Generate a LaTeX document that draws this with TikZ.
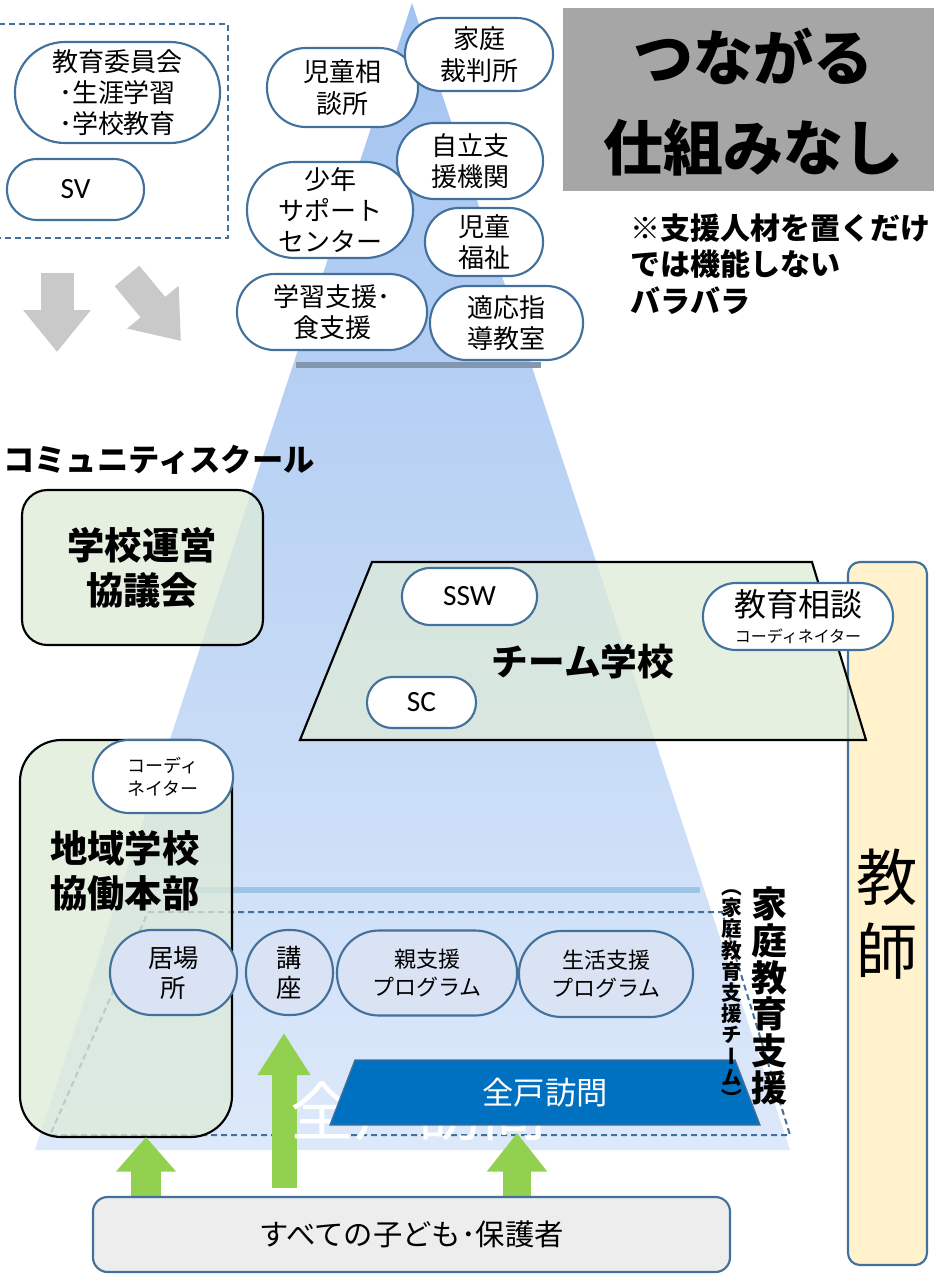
\documentclass[tikz,border=0pt]{standalone}
\usepackage{fontspec}
\setmainfont{Noto Sans CJK JP}
\newfontfamily\lat{Carlito}
\newfontfamily\vjp[RawFeature=+vert]{Noto Sans CJK JP}
\usetikzlibrary{arrows.meta}
\definecolor{pb}{HTML}{41719C}
\definecolor{triA}{HTML}{A2C3F0}
\definecolor{triB}{HTML}{DDE9FA}
\definecolor{gfill}{HTML}{DEEBD8}
\definecolor{lpill}{HTML}{DAE3F3}
\definecolor{grayb}{HTML}{A6A6A6}
\definecolor{garr}{HTML}{C9C9C9}
\definecolor{greena}{HTML}{92D050}
\definecolor{dblue}{HTML}{0070C0}
\definecolor{yel}{HTML}{FFF2CC}
\definecolor{kidsf}{HTML}{EDEDED}
\definecolor{lineg}{HTML}{8497B0}
\definecolor{lineb}{HTML}{9DC3E6}
\begin{document}
\begin{tikzpicture}[x=0.75pt,y=-0.75pt,
  wh/.style args={#1/#2}{minimum width=#1*0.75pt,minimum height=#2*0.75pt,rounded corners=#2*0.37pt},
  pill/.style={draw=pb,line width=1.6pt,fill=white,inner sep=0pt,align=center,font=\fontsize{19.5}{23.5}\selectfont},
  lowpill/.style={pill,fill=lpill},
  gbox/.style={draw=black,line width=1.6pt,fill=gfill,fill opacity=0.75,text opacity=1,inner sep=0pt},
  dashl/.style={draw=pb,line width=1.5pt,dash pattern=on 4.5pt off 3pt},
  txt/.style={inner sep=0pt,align=center},
]
\path[use as bounding box,fill=white] (0,0) rectangle (933,1275);
% pyramid
\shade[top color=triA,bottom color=triB] (412,3) -- (790,1150) -- (35,1150) -- cycle;
\draw[lineg,line width=3.8pt] (296,365) -- (541,365);
\draw[lineb,line width=4.5pt] (195,890) -- (700,890);
% dashed frames
\node[dashl,minimum width=233*0.75pt,minimum height=214*0.75pt,inner sep=0pt] (bedbox) at (111.5,131) {};
\draw[dashl] (148,912) -- (722,912) -- (790,1135) -- (50,1135) -- cycle;
% teacher column
\node[draw=pb,line width=1.6pt,fill=yel,rounded corners=9pt,minimum width=79*0.75pt,minimum height=703*0.75pt,inner sep=0pt] (kbox) at (887.5,913.5) {};
\node[txt,font=\fontsize{46}{56}\selectfont] (kyoshi) at (887,914) {教\\師};
% top-left
\node[pill,wh=205/101] (kyoiku) at (117.5,92.5) {教育委員会\\･生涯学習\\･学校教育};
\node[pill,wh=137/61,font=\lat\fontsize{22}{26}\selectfont] (sv) at (75.5,189.5) {SV};
% grey arrows
\coordinate (ga1s) at (57,273); \coordinate (ga1e) at (57,352);
\draw[garr,line width=24.75pt,-{Triangle[width=48.75pt,length=31.5pt]}] (ga1s) -- (ga1e);
\coordinate (ga2s) at (127,276); \coordinate (ga2e) at (181,341);
\draw[garr,line width=24pt,-{Triangle[width=48pt,length=33pt]}] (ga2s) -- (ga2e);
% top pills
\node[pill,wh=151/79] (jidou) at (342.5,87.5) {児童相\\談所};
\node[pill,wh=148/73] (katei) at (479,54.5) {家庭\\裁判所};
\node[pill,wh=166/96] (shonen) at (330,210) {少年\\サポート\\センター};
\node[pill,wh=146/76] (jiritsu) at (470,161) {自立支\\援機関};
\node[pill,wh=118/68] (fukushi) at (484,242) {児童\\福祉};
\node[pill,wh=190/76] (gakushu) at (332,312) {学習支援･\\食支援};
\node[pill,wh=153/74] (tekio) at (506.5,323) {適応指\\導教室};
% grey title box
\node[fill=grayb,minimum width=377*0.75pt,minimum height=183*0.75pt,inner sep=0pt] (graybox) at (751.5,99.5) {};
\node[txt,font=\bfseries\fontsize{45}{67.5}\selectfont] (tsunagaru) at (753,102) {つながる\\仕組みなし};
\node[txt,align=left,anchor=west,font=\bfseries\fontsize{22.5}{27.4}\selectfont] (note) at (630,264) {※支援人材を置くだけ\\では機能しない\\バラバラ};
\node[txt,anchor=west,font=\bfseries\fontsize{23.5}{28}\selectfont] (cs) at (3,460) {コミュニティスクール};
% green boxes
\node[gbox,rounded corners=19pt,minimum width=241*0.75pt,minimum height=155*0.75pt] (unei) at (142.5,567.5) {};
\node[txt,font=\bfseries\fontsize{28}{33.75}\selectfont] (uneit) at (142,567.5) {学校運営\\協議会};
\draw[gbox] (372,562) -- (812,562) -- (866,740) -- (300,740) -- cycle;
\node[txt,font=\bfseries\fontsize{27.5}{33}\selectfont] (team) at (583,662) {チーム学校};
\node[gbox,rounded corners=31pt,minimum width=212*0.75pt,minimum height=397*0.75pt] (chiiki) at (126,938.5) {};
\node[txt,font=\bfseries\fontsize{28}{33.75}\selectfont] (chiikit) at (125,870.5) {地域学校\\協働本部};
% team pills
\node[pill,wh=135/57,font=\lat\fontsize{22}{26}\selectfont] (ssw) at (469.5,596.5) {SSW};
\node[pill,wh=109/51,font=\lat\fontsize{22}{26}\selectfont] (sc) at (421.5,702.5) {SC};
\node[pill,wh=190/67] (soudan) at (798,616.5) {};
\node[txt,font=\fontsize{24}{28}\selectfont] (soudant) at (798,604) {教育相談};
\node[txt,font=\fontsize{12}{14}\selectfont] (soudanc) at (798,636) {コーディネイター};
\node[pill,wh=140/73,font=\fontsize{13.5}{17.25}\selectfont] (coord) at (163,776.5) {コーディ\\ネイター};
% lower pills
\node[lowpill,wh=127/85,font=\fontsize{19}{22.5}\selectfont] (ibasho) at (173.5,972.5) {居場\\所};
\node[lowpill,wh=87/85,font=\fontsize{19}{22.5}\selectfont] (koza) at (289.5,972.5) {講\\座};
\node[lowpill,wh=180/85,font=\fontsize{16.5}{21}\selectfont] (oya) at (427,973) {親支援\\プログラム};
\node[lowpill,wh=174/86,font=\fontsize{16.5}{21}\selectfont] (seikatsu) at (606,974) {生活支援\\プログラム};
% green arrows
\coordinate (g1s) at (146,1200); \coordinate (g1e) at (146,1137);
\draw[greena,line width=22.5pt,-{Triangle[width=43.5pt,length=26pt]}] (g1s) -- (g1e);
\coordinate (g2s) at (284,1188); \coordinate (g2e) at (284,1033);
\draw[greena,line width=18.75pt,-{Triangle[width=37.5pt,length=31.5pt]}] (g2s) -- (g2e);
\coordinate (g3s) at (517,1200); \coordinate (g3e) at (517,1133);
\draw[greena,line width=21pt,-{Triangle[width=43.5pt,length=29pt]}] (g3s) -- (g3e);
% door-to-door
\node[txt,text=white,font=\fontsize{48}{52}\selectfont] (zenkobig) at (418,1111) {全戸訪問};
\draw[fill=dblue,draw=pb,line width=1pt] (355,1060) -- (735,1060) -- (760,1125) -- (330,1125) -- cycle;
\node[txt,text=white,font=\fontsize{23.5}{28}\selectfont] (zenko) at (545,1093) {全戸訪問};
% bottom
\node[draw=pb,line width=1.6pt,fill=kidsf,rounded corners=11pt,minimum width=637*0.75pt,minimum height=75*0.75pt,inner sep=0pt,font=\fontsize{22}{26}\selectfont] (kids) at (411.5,1234.5) {すべての子ども･保護者};
% vertical labels
\node[txt,font=\vjp\bfseries\fontsize{27}{27.5}\selectfont] (kvt) at (769,996) {家\\庭\\教\\育\\支\\援};
\node[txt,font=\vjp\bfseries\fontsize{15.5}{15.9}\selectfont] (kvt2) at (732,998) {（\\家\\庭\\教\\育\\支\\援\\チ\\ー\\ム\\）};
\end{tikzpicture}
\end{document}
